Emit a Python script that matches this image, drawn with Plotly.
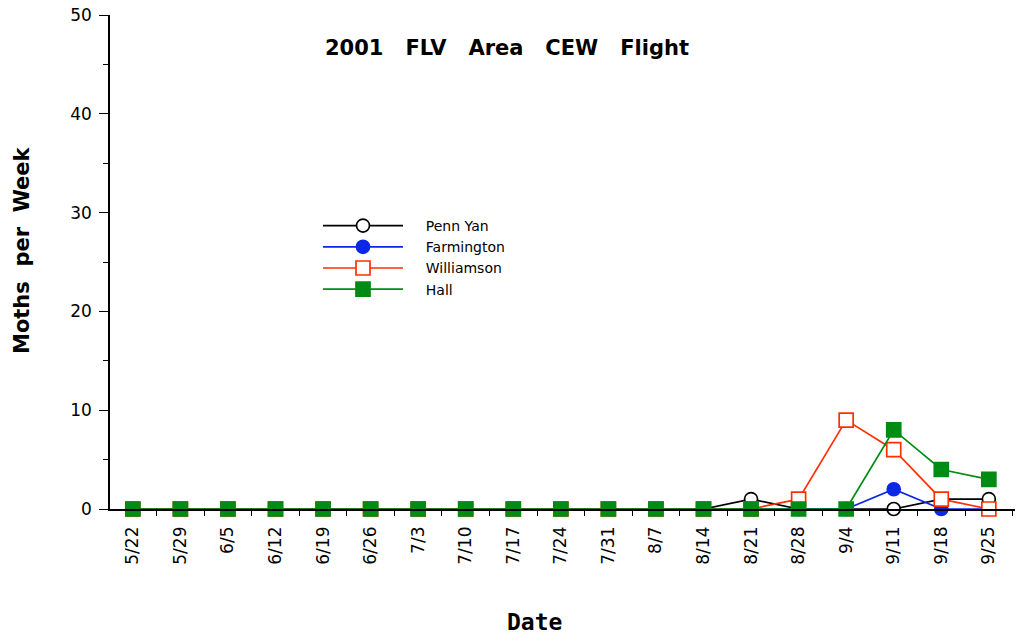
import plotly.graph_objects as go

dates = ["5/22", "5/29", "6/5", "6/12", "6/19", "6/26", "7/3", "7/10", "7/17", "7/24",
         "7/31", "8/7", "8/14", "8/21", "8/28", "9/4", "9/11", "9/18", "9/25"]
penn_yan =   [0, 0, 0, 0, 0, 0, 0, 0, 0, 0, 0, 0, 0, 1, 0, 0, 0, 1, 1]
farmington = [0, 0, 0, 0, 0, 0, 0, 0, 0, 0, 0, 0, 0, 0, 0, 0, 2, 0, 0]
williamson = [0, 0, 0, 0, 0, 0, 0, 0, 0, 0, 0, 0, 0, 0, 1, 9, 6, 1, 0]
hall =       [0, 0, 0, 0, 0, 0, 0, 0, 0, 0, 0, 0, 0, 0, 0, 0, 8, 4, 3]

series = [
    ("Penn Yan", penn_yan, "#000000", "circle", "white"),
    ("Farmington", farmington, "#0a28e6", "circle", "#0a28e6"),
    ("Williamson", williamson, "#ff3000", "square", "white"),
    ("Hall", hall, "#008c14", "square", "#008c14"),
]

fig = go.Figure()
for name, vals, col, sym, fill in series:
    fig.add_trace(go.Scatter(
        x=dates, y=vals, name="\u00a0\u00a0\u00a0\u00a0" + name, mode="lines+markers",
        line=dict(color=col, width=1.7),
        marker=dict(symbol=sym, size=13 if sym == "circle" else 14, color=fill,
                    line=dict(color=col, width=1.7)),
        cliponaxis=False,
    ))

font = "DejaVu Sans"
W, H = 1016, 644
L, R, T, B = 110, 1, 15, 135
pw = W - L - R
ph = H - T - B
def px(x):
    return (x - L) / pw
def py(y):
    return (H - B - y) / ph

fig.update_layout(
    width=W, height=H,
    margin=dict(l=L, r=R, t=T, b=B, autoexpand=False),
    plot_bgcolor="white", paper_bgcolor="white",
    font=dict(family=font, color="black", size=15),
    showlegend=True,
    legend=dict(x=px(318), y=py(210), xanchor="left", yanchor="top",
                bgcolor="rgba(0,0,0,0)", font=dict(size=14, family=font),
                tracegroupgap=0, itemwidth=80),
    annotations=[
        dict(text="<b>2001\u00a0\u00a0 FLV\u00a0\u00a0 Area\u00a0\u00a0 CEW\u00a0\u00a0 Flight</b>",
             x=px(507), y=py(48), xref="paper", yref="paper",
             xanchor="center", yanchor="middle",
             showarrow=False, font=dict(size=21, family=font)),
        dict(text="<b>Moths\u00a0 per\u00a0 Week</b>", textangle=-90,
             x=px(22), y=py(250), xref="paper", yref="paper",
             xanchor="center", yanchor="middle",
             showarrow=False, font=dict(size=21, family=font)),
        dict(text="<b>Date</b>", x=px(534), y=py(622), xref="paper", yref="paper",
             xanchor="center", yanchor="middle",
             showarrow=False, font=dict(size=23, family="DejaVu Sans Mono")),
    ],
)

fig.update_xaxes(
    type="category", range=[-0.48, 18.55], automargin=False,
    showline=True, linecolor="black", linewidth=1.5,
    ticks="outside", tickson="boundaries", ticklen=5, tickwidth=1.2, tickcolor="black",
    tickangle=-90, tickfont=dict(size=17, family=font), ticklabelstandoff=9,
    ticklabeloverflow="allow",
    showgrid=False, zeroline=False,
)
fig.update_yaxes(
    range=[0, 50], tickvals=[0, 10, 20, 30, 40, 50], automargin=False,
    showline=True, linecolor="black", linewidth=1.5,
    ticks="outside", ticklen=9, tickwidth=1.2, tickcolor="black",
    minor=dict(tickvals=[5, 15, 25, 35, 45], ticks="outside", ticklen=5, tickwidth=1.2, tickcolor="black"),
    tickfont=dict(size=17, family=font), ticklabelstandoff=4,
    ticklabeloverflow="allow",
    showgrid=False, zeroline=False,
)

fig.write_html("out.html", config={"displayModeBar": False},
               post_script="document.body.style.margin='0';document.body.style.overflow='hidden';")
